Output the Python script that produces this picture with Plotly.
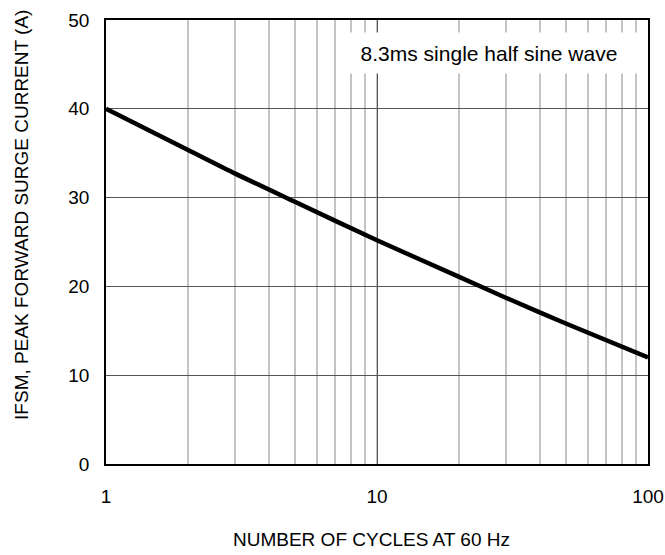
import plotly.graph_objects as go

cycles = [1, 2, 3, 5, 10, 20, 30, 50, 100]
ifsm = [40, 35.4, 32.7, 29.5, 25.2, 21.1, 18.7, 15.8, 12.0]

x_ticks = [1, 10, 100]
x_tick_labels = ["1", "10", "100"]
y_ticks = [0, 10, 20, 30, 40, 50]

x_title = "NUMBER OF CYCLES AT 60 Hz"
y_title = "IFSM, PEAK FORWARD SURGE CURRENT (A)"
note = "8.3ms single half sine wave"

FONT = "Liberation Sans, Arial, sans-serif"

fig = go.Figure()
fig.add_trace(go.Scatter(x=cycles, y=ifsm, mode="lines",
                         line=dict(color="black", width=4.5, shape="spline", smoothing=0.8),
                         showlegend=False, hoverinfo="skip"))

fig.update_layout(
    template="none",
    width=665, height=555,
    margin=dict(l=106, r=17, t=20, b=91, autoexpand=False),
    plot_bgcolor="white", paper_bgcolor="white",
    font=dict(family=FONT, size=19, color="black"),
    xaxis=dict(type="log", range=[0, 2], tickvals=x_ticks, ticktext=x_tick_labels,
               showgrid=True, gridcolor="#555555", gridwidth=1,
               minor=dict(showgrid=True, gridcolor="#c4c4c4", gridwidth=1.5, dtick="D1"),
               showline=True, linecolor="black", linewidth=1.5, mirror=True,
               ticks="", ticklabelstandoff=14, zeroline=False, automargin=False),
    yaxis=dict(range=[0, 50], tickvals=y_ticks,
               showgrid=True, gridcolor="#555555", gridwidth=1,
               showline=True, linecolor="black", linewidth=1.5, mirror=True,
               ticks="", ticklabelstandoff=11, zeroline=False, automargin=False),
)

fig.add_annotation(x=0.489, y=-0.171, xref="paper", yref="paper", text=x_title,
                   showarrow=False, font=dict(size=19), xanchor="center", yanchor="middle")
fig.add_annotation(x=-0.155, y=0.561, xref="paper", yref="paper", text=y_title,
                   showarrow=False, font=dict(size=19), textangle=-90,
                   xanchor="center", yanchor="middle")

fig.add_annotation(x=0.707, y=0.926, xref="paper", yref="paper",
                   text=note, showarrow=False,
                   font=dict(size=21, color="black"), bgcolor="white",
                   width=300, height=40, borderpad=0,
                   xanchor="center", yanchor="middle")

fig.write_html("out.html", config={"displayModeBar": False},
               post_script="document.body.style.margin='0';")
